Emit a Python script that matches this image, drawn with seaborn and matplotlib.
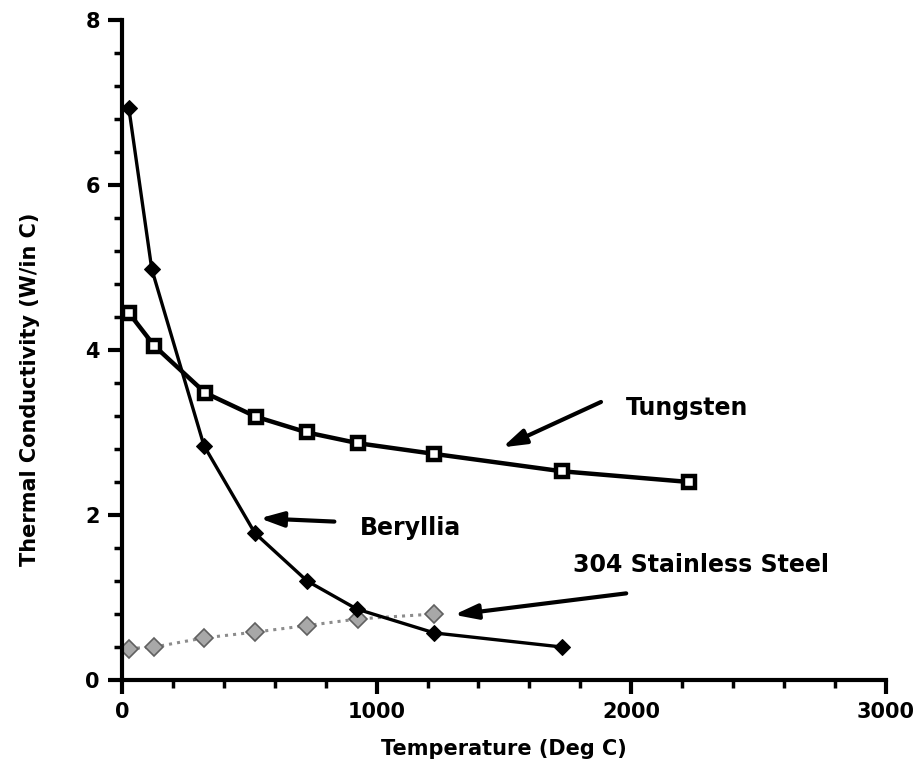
import numpy as np
import pandas as pd
import matplotlib
matplotlib.use("Agg")
import matplotlib.pyplot as plt
from matplotlib.ticker import MultipleLocator
import seaborn as sns

# values
tungsten_t = [27, 127, 327, 527, 727, 927, 1227, 1727, 2227]
tungsten_k = [4.45, 4.05, 3.48, 3.19, 3.00, 2.87, 2.74, 2.53, 2.40]

beryllia_t = [27, 117, 322, 522, 727, 922, 1227, 1727]
beryllia_k = [6.93, 4.98, 2.84, 1.78, 1.20, 0.86, 0.57, 0.40]

steel_t = [27, 127, 322, 522, 727, 927, 1227]
steel_k = [0.38, 0.40, 0.51, 0.58, 0.66, 0.74, 0.80]

sns.set_style("ticks")
plt.rcParams["font.family"] = ["DejaVu Sans"]
plt.rcParams["font.weight"] = "bold"
plt.rcParams["text.color"] = "black"
plt.rcParams["axes.labelcolor"] = "black"
plt.rcParams["xtick.color"] = "black"
plt.rcParams["ytick.color"] = "black"
plt.rcParams["axes.edgecolor"] = "black"

fig = plt.figure(figsize=(9.22, 7.75), dpi=100)
ax = fig.add_axes([0.1323, 0.1226, 0.8286, 0.8516])

sns.lineplot(x=steel_t, y=steel_k, ax=ax, color="#8c8c8c", linestyle=":", linewidth=2.2,
             marker="D", markersize=9, markerfacecolor="#a8a8a8", markeredgecolor="#606060",
             markeredgewidth=1.2)
sns.lineplot(x=beryllia_t, y=beryllia_k, ax=ax, color="black", linewidth=2.4,
             marker="D", markersize=8, markeredgecolor="black")
sns.lineplot(x=tungsten_t, y=tungsten_k, ax=ax, color="black", linewidth=3.2,
             marker="s", markersize=9, markerfacecolor="white", markeredgecolor="black",
             markeredgewidth=3.2)

ax.set_xlim(0, 3000)
ax.set_ylim(0, 8)
ax.xaxis.set_major_locator(MultipleLocator(1000))
ax.xaxis.set_minor_locator(MultipleLocator(200))
ax.yaxis.set_major_locator(MultipleLocator(2))
ax.yaxis.set_minor_locator(MultipleLocator(0.4))
ax.tick_params(which="major", length=10, width=3, labelsize=15, pad=6)
ax.tick_params(which="minor", length=6, width=2.5)
for lab in ax.get_xticklabels() + ax.get_yticklabels():
    lab.set_fontweight("bold")
sns.despine(ax=ax)
for s in ("left", "bottom"):
    ax.spines[s].set_linewidth(3)

ax.set_xlabel("Temperature (Deg C)", fontsize=15, fontweight="bold", labelpad=12)
ax.set_ylabel("Thermal Conductivity (W/in C)", fontsize=15, fontweight="bold")
ax.yaxis.set_label_coords(-0.107, 0.44)

arrow = dict(arrowstyle="-|>,head_length=1.4,head_width=0.45", color="black", lw=3,
             shrinkA=0, shrinkB=0)
ax.annotate("", xy=(1494, 2.82), xytext=(1881, 3.37), arrowprops=arrow)
ax.text(1980, 3.3, "Tungsten", fontsize=17, fontweight="bold", va="center", ha="left")

ax.annotate("", xy=(541, 1.96), xytext=(834, 1.92), arrowprops=arrow)
ax.text(933, 1.84, "Beryllia", fontsize=17, fontweight="bold", va="center", ha="left")

ax.annotate("", xy=(1304, 0.79), xytext=(1980, 1.05), arrowprops=arrow)
ax.text(1771, 1.39, "304 Stainless Steel", fontsize=17, fontweight="bold", va="center", ha="left")

fig.savefig("out.png", dpi=100)
